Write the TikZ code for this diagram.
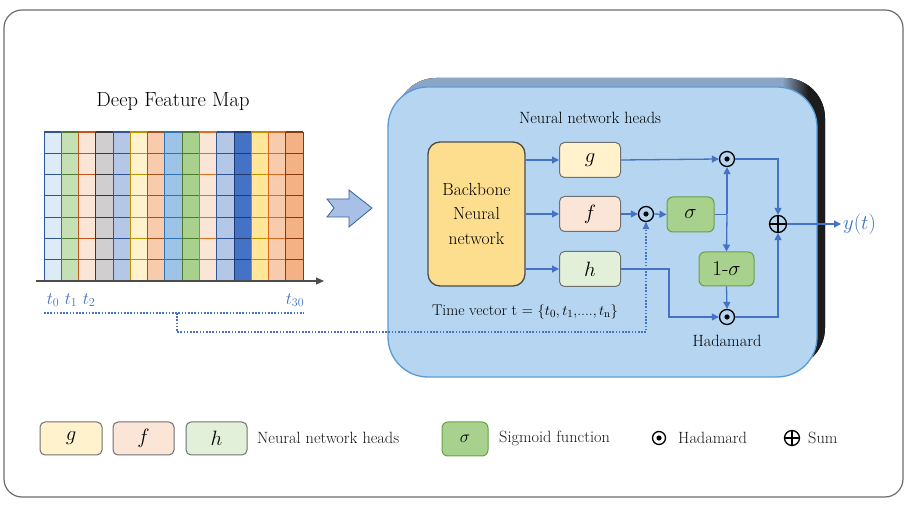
\documentclass[tikz,border=0pt]{standalone}
\usepackage{fontspec}
\usetikzlibrary{arrows.meta,shapes.geometric}
\definecolor{lb}{HTML}{4472C4}
\definecolor{boxfill}{HTML}{B5D5F0}
\definecolor{boxline}{HTML}{5B9BD5}
\definecolor{shb}{HTML}{8AA5C6}
\definecolor{shk}{HTML}{1C1C1C}
\definecolor{bbfill}{HTML}{FDDD8E}
\definecolor{gfill}{HTML}{FFF2CC}
\definecolor{ffill}{HTML}{FBE5D6}
\definecolor{hfill}{HTML}{E2F0D9}
\definecolor{sfill}{HTML}{A9D18E}
\definecolor{sline}{HTML}{6A9F45}
\definecolor{gline}{HTML}{707070}
\definecolor{arrfill}{HTML}{A8BFE6}
\definecolor{arrline}{HTML}{3A5F9F}
\newcommand\fsz[2]{\fontsize{#1}{#2}\selectfont}
\pgfdeclarehorizontalshading{shsh}{100bp}{color(0bp)=(shb); color(70bp)=(shb); color(73bp)=(shk); color(100bp)=(shk)}
\tikzset{
  conn/.style={draw=lb, line width=1.3pt, -{Triangle[length=7pt,width=7pt]}},
  plainconn/.style={draw=lb, line width=1.3pt},
  dotconn/.style={draw=lb, line width=1.1pt, dash pattern=on 1.6pt off 1.6pt},
  headbox/.style={rounded corners=5pt, draw=gline, line width=1pt, minimum width=61pt, minimum height=35pt, inner sep=0pt, font=\fsz{22}{24}},
  sigbox/.style={rounded corners=6pt, draw=sline, line width=1pt, fill=sfill, inner sep=0pt, font=\fsz{20}{24}},
  hdot/.style={circle, draw=black, line width=1.3pt, minimum size=15pt, inner sep=0pt, path picture={\fill[black] (path picture bounding box.center) circle (2.6pt);}},
  sumn/.style={circle, draw=black, line width=1.3pt, minimum size=17pt, inner sep=0pt, path picture={\draw[line width=1.3pt] (path picture bounding box.north) -- (path picture bounding box.south) (path picture bounding box.west) -- (path picture bounding box.east);}},
  lbl/.style={font=\fsz{16.3}{19}, inner sep=0pt, text=black!90},
}
\begin{document}
\begin{tikzpicture}[x=1pt,y=-1pt]
\useasboundingbox (0,0) rectangle (908,510);
\fill[white] (0,0) rectangle (908,510);
% outer frame
\draw[draw=gray!85!black, line width=1.2pt, rounded corners=18pt] (4,10) rectangle (903,497);

% title
\node[font=\fsz{20.5}{24}] (title) at (173,102) {Deep Feature Map};

% grid
\foreach \fc/\bc [count=\i from 0] in {DDEBF7/2F5597, C5E0B4/4E7A30, FBE5D6/C0561A, D0CECE/3B3838, B4C7E7/2F5597, FFF2CC/BF9000, F8CBAD/A8501A, 9DC3E6/2E75B6, A9D18E/4E7A30, FBE5D6/E0701F, B4C7E7/2F5597, 4472C4/1F3A73, FFE699/BF9000, F8CBAD/D86A22, F4B183/843C0C} {
  \definecolor{tmpf}{HTML}{\fc}
  \definecolor{tmpb}{HTML}{\bc}
  \pgfmathsetmacro\xa{44+17.27*\i}
  \pgfmathsetmacro\xb{44+17.27*(\i+1)}
  \fill[tmpf] (\xa,132) rectangle (\xb,281);
  \foreach \r in {0,...,6} {
    \pgfmathsetmacro\yy{132+21.3*\r}
    \draw[tmpb, line width=1.1pt] (\xa,\yy) -- (\xb,\yy);
  }
  \draw[tmpb, line width=0.9pt] (\xa,132) -- (\xa,281) (\xb,132) -- (\xb,281);
}
\coordinate (axs) at (36,281);
\coordinate (axe) at (324,281);
\draw[draw=gray!60!black, line width=1.2pt, -{Triangle[length=8pt,width=7pt]}] (axs) -- (axe);

% time labels
\node[lbl, text=lb, font=\fsz{18}{19}] (t0) at (53,300) {$t_0$};
\node[lbl, text=lb, font=\fsz{18}{19}] (t1) at (71,300) {$t_1$};
\node[lbl, text=lb, font=\fsz{18}{19}] (t2) at (89,300) {$t_2$};
\node[lbl, text=lb, font=\fsz{18}{19}] (t30) at (295,300) {$t_{30}$};

% block arrow
\draw[fill=arrfill, draw=arrline, line width=0.8pt] (327,199) -- (349,199) -- (349,190) -- (372,208) -- (349,227) -- (349,217) -- (327,217) -- (334,208) -- cycle;

% big blue box with shadow
\fill[shading=shsh, rounded corners=40pt] (396,78) rectangle (825,368);
\draw[fill=boxfill, draw=boxline, line width=1.3pt, rounded corners=40pt] (388,87) rectangle (817,377);

\node[font=\fsz{16.3}{19}] (nnh) at (590,118) {Neural network heads};

% backbone
\node[rounded corners=12pt, draw=gray!60!black, line width=1.3pt, fill=bbfill, minimum width=97pt, minimum height=144pt, align=center, font=\fsz{17.5}{25}] (bb) at (476.5,214) {Backbone\\Neural\\network};

% heads
\node[headbox, fill=gfill] (g) at (590,160) {$g$};
\node[headbox, fill=ffill] (f) at (590,214) {$f$};
\node[headbox, fill=hfill] (h) at (590,269) {$h$};

\node[hdot] (fdot) at (646,214) {};
\node[sigbox, minimum width=47pt, minimum height=35pt] (sig) at (690.5,214.5) {$\sigma$};
\node[hdot] (topdot) at (727,159) {};
\node[sigbox, minimum width=55pt, minimum height=34pt, font=\fsz{21}{24}] (oms) at (726.5,269) {1-$\sigma$};
\node[hdot] (botdot) at (727,317) {};
\node[sumn] (sum) at (778,224) {};
\node[font=\fsz{21}{24}, text=lb, anchor=west, inner sep=0pt] (yt) at (843,224) {$y(t)$};
\node[font=\fsz{16.3}{19}] (hadl) at (727,341) {Hadamard};
\node[font=\fsz{15.5}{19}] (tv) at (525,312) {Time vector t = $\{t_0,t_1,$....$,t_\mathrm{n}\}$};

% connectors
\draw[conn] (bb.east |- g) -- (g.west);
\draw[conn] (bb.east |- f) -- (f.west);
\draw[conn] (bb.east |- h) -- (h.west);
\draw[conn] (f.east) -- (fdot.west);
\draw[conn] (fdot.east) -- (sig.west);
\draw[conn] (g.east) -- (topdot.west);
\coordinate (j) at (sig.east -| topdot);
\draw[plainconn] (sig.east) -- (j);
\draw[conn] (j) -- (topdot.south);
\draw[conn] (j) -- (oms.north);
\draw[conn] (oms.south) -- (botdot.north);
\coordinate (hk) at (669,269);
\draw[conn] (h.east) -- (hk) -- (hk |- botdot) -- (botdot.west);
\draw[conn] (topdot.east) -- (sum |- topdot) -- (sum.north);
\draw[conn] (botdot.east) -- (sum |- botdot) -- (sum.south);
\draw[conn] (sum.east) -- ([xshift=-2pt]yt.west);

% dotted time connectors
\coordinate (d1) at (44,313);
\coordinate (d2) at (304,313);
\coordinate (d3) at (177,313);
\coordinate (d4) at (177,332);
\draw[dotconn] (d1) -- (d2);
\draw[dotconn] (d3) -- (d4) -- (d4 -| fdot) -- (fdot.south);
\fill[lb] (fdot.south) -- ++(-3.5,7) -- ++(7,0) -- cycle;

% legend
\node[headbox, fill=gfill, minimum width=62pt, minimum height=33pt] (lg) at (71,438.5) {$g$};
\node[headbox, fill=ffill, minimum width=61pt, minimum height=33pt] (lf) at (143.5,438.5) {$f$};
\node[headbox, fill=hfill, minimum width=61pt, minimum height=33pt] (lh) at (216.5,438.5) {$h$};
\node[lbl, anchor=west] (lnn) at (257,438) {Neural network heads};
\node[sigbox, minimum width=46pt, minimum height=34pt, font=\fsz{19}{22}] (ls) at (465,439) {$\sigma$};
\node[lbl, anchor=west] (lsig) at (499,438) {Sigmoid function};
\node[hdot, minimum size=13pt] (ldot) at (659,438) {};
\node[lbl, anchor=west] (lhad) at (678,438) {Hadamard};
\node[sumn, minimum size=15pt] (lsum) at (792,438) {};
\node[lbl, anchor=west] (lsumt) at (808,438) {Sum};
\end{tikzpicture}
\end{document}
